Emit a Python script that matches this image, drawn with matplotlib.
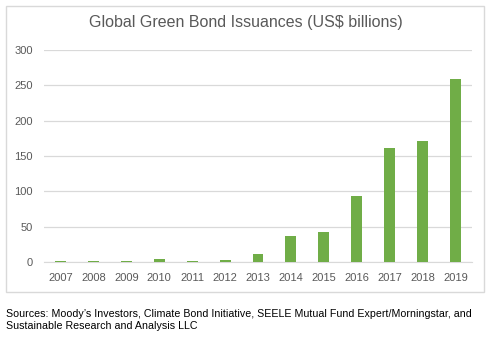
import matplotlib.pyplot as plt
from matplotlib.patches import Rectangle

years = ['2007', '2008', '2009', '2010', '2011', '2012', '2013',
         '2014', '2015', '2016', '2017', '2018', '2019']
issuance = [1, 1, 1, 4, 1, 3, 11, 37, 42, 93, 161, 171, 259]

fig = plt.figure(figsize=(4.92, 3.38), dpi=100)
fig.patch.set_facecolor('white')

# chart frame
fig.patches.append(Rectangle((6 / 492, 1 - 292 / 338), 478 / 492, 286 / 338,
                             transform=fig.transFigure, fill=False,
                             edgecolor='#d9d9d9', linewidth=1))

ax = fig.add_axes([44 / 492, (338 - 262) / 338, 428 / 492, 212 / 338])
ax.bar(range(len(years)), issuance, width=0.33, color='#70ad47', zorder=3)

ax.set_xlim(-0.5, len(years) - 0.5)
ax.set_ylim(0, 300)
ax.set_yticks(range(0, 301, 50))
ax.set_xticks(range(len(years)))
ax.set_xticklabels(years)
ax.grid(axis='y', color='#d9d9d9', linewidth=0.9, zorder=0)
for s in ['top', 'right', 'left']:
    ax.spines[s].set_visible(False)
ax.spines['bottom'].set_color('#d9d9d9')
ax.tick_params(length=0, labelsize=8, colors='#595959', pad=8)
ax.tick_params(axis='y', pad=8)
for lab in ax.get_xticklabels() + ax.get_yticklabels():
    lab.set_family('Liberation Sans')

fig.text(0.5, 1 - 22 / 338, 'Global Green Bond Issuances (US$ billions)',
         ha='center', va='center', fontsize=11.5, color='#595959',
         family='Liberation Sans')
fig.text(6 / 492, 1 - 320 / 338,
         'Sources: Moody\u2019s Investors, Climate Bond Initiative, SEELE Mutual Fund Expert/Morningstar, and\n'
         'Sustainable Research and Analysis LLC',
         ha='left', va='center', fontsize=7.65, color='black',
         family='Liberation Sans', linespacing=1.35)

fig.savefig('out.png', dpi=100)
